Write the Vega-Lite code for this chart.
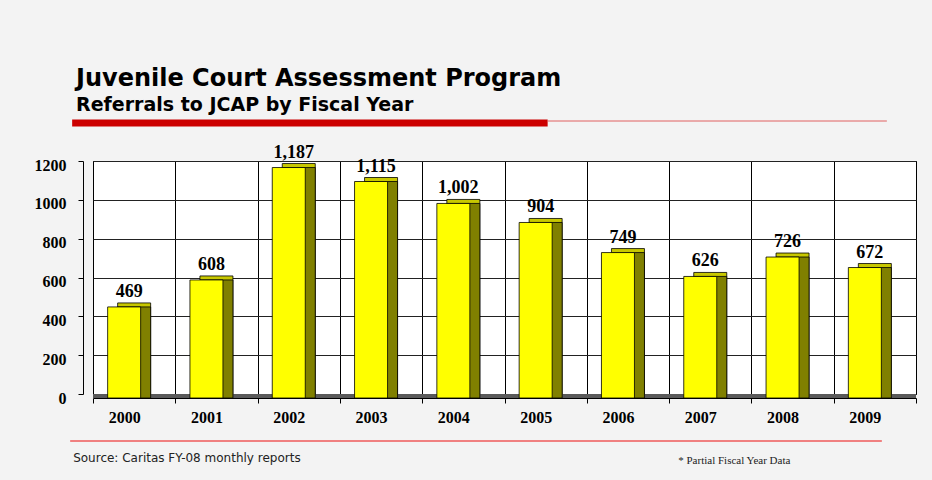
{
  "$schema": "https://vega.github.io/schema/vega-lite/v6.json",
  "width": 823,
  "height": 233,
  "autosize": {"type": "none"},
  "padding": {"left": 93, "top": 161, "right": 16, "bottom": 86},
  "background": "#f3f3f3",
  "view": {"fill": "white", "stroke": "#000", "strokeWidth": 1},
  "title": {
    "text": "Juvenile Court Assessment Program",
    "subtitle": "Referrals to JCAP by Fiscal Year",
    "anchor": "start",
    "frame": "group",
    "dx": -17,
    "offset": 5,
    "font": "DejaVu Sans",
    "fontSize": 24,
    "fontWeight": "bold",
    "color": "#000",
    "subtitleFont": "DejaVu Sans",
    "subtitleFontSize": 19,
    "subtitleFontWeight": "bold",
    "subtitleColor": "#000",
    "subtitlePadding": 5
  },
  "data": {
    "values": [
      {"year": "2000", "referrals": 469},
      {"year": "2001", "referrals": 608},
      {"year": "2002", "referrals": 1187},
      {"year": "2003", "referrals": 1115},
      {"year": "2004", "referrals": 1002},
      {"year": "2005", "referrals": 904},
      {"year": "2006", "referrals": 749},
      {"year": "2007", "referrals": 626},
      {"year": "2008", "referrals": 726},
      {"year": "2009", "referrals": 672}
    ]
  },
  "encoding": {
    "x": {
      "field": "year",
      "type": "nominal",
      "sort": null,
      "scale": {"paddingInner": 0, "paddingOuter": 0},
      "axis": {
        "title": null,
        "labelAngle": 0,
        "tickBand": "extent",
        "grid": true,
        "gridColor": "#000",
        "gridWidth": 1,
        "offset": 4,
        "labelOffset": -10,
        "labelFont": "Liberation Serif",
        "labelFontSize": 16,
        "labelFontWeight": "bold",
        "labelColor": "#000",
        "labelPadding": 6,
        "domainColor": "#000",
        "tickColor": "#000",
        "tickSize": 5
      }
    },
    "y": {
      "field": "referrals",
      "type": "quantitative",
      "scale": {"domain": [0, 1200], "nice": false},
      "axis": {
        "title": null,
        "values": [0, 200, 400, 600, 800, 1000, 1200],
        "format": "d",
        "grid": true,
        "gridColor": "#222",
        "gridWidth": 1,
        "offset": 10,
        "labelOffset": 4,
        "labelFont": "Liberation Serif",
        "labelFontSize": 16,
        "labelFontWeight": "bold",
        "labelColor": "#000",
        "labelPadding": 12,
        "domainColor": "#000",
        "tickColor": "#000",
        "tickSize": 5
      }
    }
  },
  "layer": [
    {
      "mark": {"type": "rule", "color": "#5a5a5a", "strokeWidth": 4, "yOffset": 2},
      "encoding": {"x": null, "y": {"datum": 0}}
    },
    {
      "mark": {"type": "bar", "size": 33, "color": "#c8c800", "stroke": "#000", "strokeWidth": 0.8}
    },
    {
      "mark": {
        "type": "bar",
        "size": 33,
        "color": "#808000",
        "stroke": "#000",
        "strokeWidth": 0.8,
        "yOffset": 4,
        "y2Offset": 4
      }
    },
    {
      "mark": {
        "type": "bar",
        "size": 33,
        "color": "#ffff00",
        "stroke": "#000",
        "strokeWidth": 0.8,
        "xOffset": -10,
        "x2Offset": -10,
        "yOffset": 4,
        "y2Offset": 4
      }
    },
    {
      "mark": {
        "type": "text",
        "font": "Liberation Serif",
        "fontSize": 18,
        "fontWeight": "bold",
        "color": "#000",
        "baseline": "alphabetic",
        "dy": -6,
        "xOffset": -5
      },
      "encoding": {"text": {"field": "referrals", "type": "quantitative", "format": ","}}
    },
    {
      "transform": [{"filter": "datum.year == '2000'"}],
      "mark": {"type": "rule", "color": "#cc0000", "strokeWidth": 7, "yOffset": -38, "xOffset": -62, "x2Offset": 2},
      "encoding": {
        "x": {"datum": "2000"},
        "x2": {"datum": "2005"},
        "y": {"datum": 1200}
      }
    },
    {
      "transform": [{"filter": "datum.year == '2000'"}],
      "mark": {"type": "rule", "color": "#e06060", "strokeWidth": 1, "yOffset": -40, "xOffset": 2, "x2Offset": 12},
      "encoding": {
        "x": {"datum": "2005"},
        "x2": {"datum": "2009"},
        "y": {"datum": 1200}
      }
    },
    {
      "transform": [{"filter": "datum.year == '2000'"}],
      "mark": {"type": "rule", "color": "#f08080", "strokeWidth": 2, "yOffset": 47, "xOffset": -64, "x2Offset": 7},
      "encoding": {
        "x": {"datum": "2000"},
        "x2": {"datum": "2009"},
        "y": {"datum": 0}
      }
    },
    {
      "transform": [{"filter": "datum.year == '2000'"}],
      "mark": {"type": "text", "align": "left", "baseline": "alphabetic", "font": "DejaVu Sans", "fontSize": 12, "color": "#222", "xOffset": -61, "yOffset": 68},
      "encoding": {
        "x": {"datum": "2000"},
        "y": {"datum": 0},
        "text": {"value": "Source: Caritas FY-08 monthly reports"}
      }
    },
    {
      "transform": [{"filter": "datum.year == '2000'"}],
      "mark": {"type": "text", "align": "left", "baseline": "alphabetic", "font": "Liberation Serif", "fontSize": 11, "color": "#222", "xOffset": -32, "yOffset": 70},
      "encoding": {
        "x": {"datum": "2007"},
        "y": {"datum": 0},
        "text": {"value": "* Partial Fiscal Year Data"}
      }
    }
  ]
}
